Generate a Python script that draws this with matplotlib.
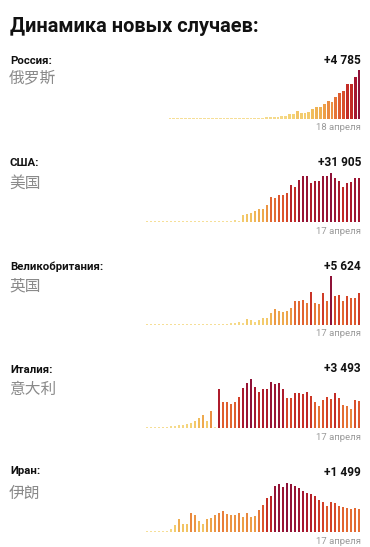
import matplotlib
matplotlib.use("Agg")
import matplotlib.pyplot as plt
import numpy as np
from matplotlib.colors import LinearSegmentedColormap

W, H = 370, 547

title = "Динамика новых случаев:"
countries_ru = ["Россия:", "США:", "Великобритания:", "Италия:", "Иран:"]
countries_zh = ["俄罗斯", "美国", "英国", "意大利", "伊朗"]
latest_labels = ["+4 785", "+31 905", "+5 624", "+3 493", "+1 499"]
date_labels = ["18 апреля", "17 апреля", "17 апреля", "17 апреля", "17 апреля"]

russia = [0, 0, 1, 0, 0, 1, 6, 0, 4, 0, 3, 8, 6, 17, 14, 4, 30, 21, 33, 52,
          54, 53, 61, 71, 57, 163, 182, 196, 228, 270, 302, 500, 440, 771, 601,
          582, 658, 954, 1154, 1175, 1459, 1786, 1667, 2186, 2558, 2774, 3388,
          3448, 4070, 4785]

usa = [0] * 21 + [600, 1400, 1000,
                  5020, 6090, 6810, 8250, 9320, 9680, 12190, 17930, 17210, 19720,
                  19720, 21510, 27250, 25450, 30830, 33340, 33700, 28320, 30110,
                  30110, 33700, 33340, 35850, 32270, 29760, 25810, 28320, 29040,
                  32270, 31905]

uk = [0] * 18 + [60, 120, 180, 300, 350, 530, 300,
                 1070, 890, 590, 890, 1180, 1300, 2070, 2840, 2490, 2370, 2490,
                 2960, 4260, 4320, 4440, 3850, 5920, 3850, 3670, 5620, 4320, 8700,
                 5210, 5390, 4320, 5210, 4740, 4740, 5624]

italy = [0, 0, 0, 90, 130, 170, 220, 260, 350, 440, 520, 660, 960, 1310, 1750,
         870, 2270, 0,
         5110, 3410, 3410, 3190, 3410, 4060, 5240, 5900, 6420, 5370, 4720, 5110,
         5110, 6030, 5810, 5900, 5110, 3930, 3930, 4590, 4590, 4460, 4720, 4240,
         3410, 2930, 3630, 4060, 3800, 4590, 3930, 3060, 2930, 2490, 3710, 3493]

iran = [0] * 5 + [43, 214, 428, 814, 536, 536, 1220, 1071, 707, 536, 857, 921,
                  1071, 1242, 1328, 1178, 1071, 1114, 1221, 964, 1221, 964, 1028,
                  1392, 1757, 2206, 2356, 2999, 3106, 2892, 3170, 3106, 2956, 2849,
                  2678, 2528, 2464, 2314, 2099, 1971, 1714, 1971, 1885, 1671, 1607,
                  1542, 1500, 1564, 1499]

series = [russia, usa, uk, italy, iran]

# layout (pixels)
chart_left = [168, 145, 145, 145, 145]
chart_right = 361
baseline_y = [119, 222, 325, 428, 532]
chart_h = 49
label_y = [61, 163, 267, 370, 471]
zh_y = [78, 183, 286, 389, 493]
num_y = [60, 163, 266, 368, 473]
date_y = [128, 231, 334, 437, 541]

cmap = LinearSegmentedColormap.from_list("heat", [
    (0.0, "#f6df98"), (0.1, "#f4d276"), (0.2, "#f1bd5c"), (0.3, "#eda048"),
    (0.42, "#e87e3a"), (0.52, "#e06030"), (0.62, "#d44228"), (0.72, "#c22a26"),
    (0.82, "#a8182e"), (1.0, "#8e1238")])

fig = plt.figure(figsize=(W / 100, H / 100), dpi=100)
fig.patch.set_facecolor("white")

latin = ["Roboto", "DejaVu Sans"]
cjk = ["Noto Sans CJK SC", "DejaVu Sans"]

def fx(x):
    return x / W

def fy(y):
    return 1 - y / H

fig.text(fx(10), fy(27), title, family=latin, fontsize=14.4, fontweight="bold",
         color="#111111", va="center", ha="left")

for i, vals in enumerate(series):
    vals = np.array(vals, dtype=float)
    n = len(vals)
    vmax = vals.max()
    left = chart_left[i]
    ax = fig.add_axes([fx(left), fy(baseline_y[i]), (chart_right - left) / W, chart_h / H])
    heights = np.maximum(vals, vmax / chart_h * 1.2)
    frac = vals / vmax
    colors = [cmap(f) for f in frac]
    ax.bar(np.arange(n), heights, width=0.74, color=colors, linewidth=0)
    ax.set_xlim(-0.5, n - 0.5)
    ax.set_ylim(0, vmax)
    ax.axis("off")

    fig.text(fx(10), fy(label_y[i]), countries_ru[i], family=latin, fontsize=8.2,
             fontweight="bold", color="#111111", va="center", ha="left")
    fig.text(fx(9), fy(zh_y[i]), countries_zh[i], family=cjk, fontsize=11.3,
             color="#8a8a8a", va="center", ha="left", fontweight="light")
    fig.text(fx(chart_right), fy(num_y[i]), latest_labels[i], family=latin,
             fontsize=8.6, fontweight="bold", color="#111111", va="center", ha="right")
    fig.text(fx(chart_right), fy(date_y[i]), date_labels[i], family=latin,
             fontsize=6.8, color="#9a9a9a", va="center", ha="right")

fig.savefig("out.png", dpi=100, facecolor="white")
